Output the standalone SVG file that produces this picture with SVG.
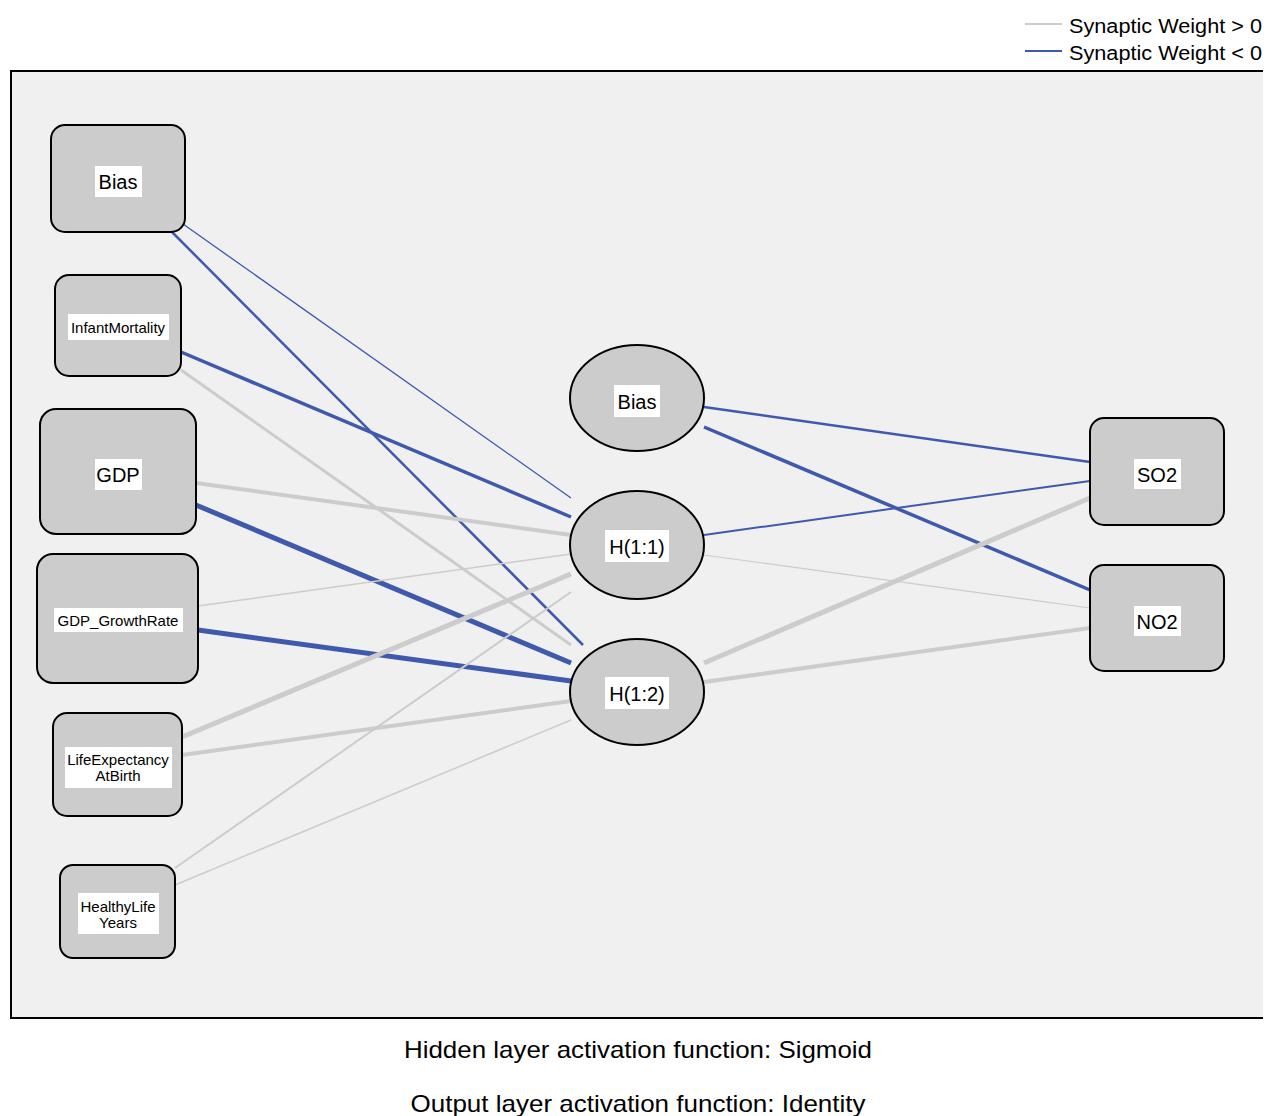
<svg xmlns="http://www.w3.org/2000/svg" width="1270" height="1116" viewBox="0 0 1270 1116">
<style>
text{font-family:"Liberation Sans",Arial,sans-serif;fill:#000}
.node{fill:#cccccc;stroke:#000;stroke-width:2}
.lbl{fill:#fff}
.pos{stroke:#cccccc;fill:none}
.neg{stroke:#3f59ad;fill:none}
.big{font-size:20px;text-anchor:middle}
.sm{font-size:15px;text-anchor:middle}
.cap{font-size:24px;text-anchor:middle}
.leg{font-size:20px}
</style>
<rect width="1270" height="1116" fill="#fff"/>
<g id="legend">
<line x1="1025" y1="24" x2="1062" y2="24" class="pos" stroke-width="2"/>
<text x="1069" y="33" class="leg" textLength="193" lengthAdjust="spacingAndGlyphs">Synaptic Weight &gt; 0</text>
<line x1="1025" y1="51" x2="1062" y2="51" class="neg" stroke-width="2"/>
<text x="1069" y="60" class="leg" textLength="193" lengthAdjust="spacingAndGlyphs">Synaptic Weight &lt; 0</text>
</g>
<g id="frame">
<rect x="11" y="71" width="1252" height="947" fill="#f0f0f0"/>
<polyline points="1263,71 11,71 11,1018 1263,1018" fill="none" stroke="#000" stroke-width="2"/>
</g>
<g id="connectors">
<line x1="183" y1="224" x2="571" y2="498" class="neg" stroke-width="1.3"/>
<line x1="172" y1="232" x2="583" y2="645" class="neg" stroke-width="2.5"/>
<line x1="181" y1="352" x2="571" y2="517" class="neg" stroke-width="3.5"/>
<line x1="181" y1="370" x2="571" y2="645" class="pos" stroke-width="3"/>
<line x1="196" y1="483" x2="571" y2="535" class="pos" stroke-width="4"/>
<line x1="196" y1="505" x2="571" y2="663" class="neg" stroke-width="5"/>
<line x1="198" y1="606" x2="571" y2="554" class="pos" stroke-width="1.5"/>
<line x1="198" y1="630" x2="571" y2="681" class="neg" stroke-width="5"/>
<line x1="182" y1="737" x2="571" y2="574" class="pos" stroke-width="5"/>
<line x1="182" y1="755" x2="571" y2="701" class="pos" stroke-width="4"/>
<line x1="175" y1="868" x2="571" y2="592" class="pos" stroke-width="2"/>
<line x1="175" y1="885" x2="571" y2="720" class="pos" stroke-width="1.5"/>
<line x1="704" y1="407" x2="1090" y2="462" class="neg" stroke-width="2.5"/>
<line x1="704" y1="427" x2="1090" y2="590" class="neg" stroke-width="3.5"/>
<line x1="704" y1="535" x2="1090" y2="481" class="neg" stroke-width="2"/>
<line x1="704" y1="555" x2="1090" y2="608" class="pos" stroke-width="1.2"/>
<line x1="704" y1="663" x2="1090" y2="498" class="pos" stroke-width="5"/>
<line x1="704" y1="682" x2="1090" y2="628" class="pos" stroke-width="4"/>
</g>
<g id="in_bias">
<rect x="51" y="125" width="134" height="107" rx="14" class="node"/>
<rect x="95" y="166" width="47" height="31" class="lbl"/>
<text x="118" y="189" class="big">Bias</text>
</g>
<g id="in_infant">
<rect x="55" y="275" width="126" height="101" rx="14" class="node"/>
<rect x="68" y="314" width="101" height="26" class="lbl"/>
<text x="118" y="333" class="sm">InfantMortality</text>
</g>
<g id="in_gdp">
<rect x="40" y="409" width="156" height="125" rx="16" class="node"/>
<rect x="95" y="459" width="47" height="31" class="lbl"/>
<text x="118" y="482" class="big">GDP</text>
</g>
<g id="in_gdpgr">
<rect x="37" y="554" width="161" height="129" rx="16" class="node"/>
<rect x="54" y="608" width="129" height="24" class="lbl"/>
<text x="118" y="626" class="sm">GDP_GrowthRate</text>
</g>
<g id="in_life">
<rect x="53" y="713" width="129" height="103" rx="14" class="node"/>
<rect x="65" y="747" width="107" height="41" class="lbl"/>
<text x="118" y="765" class="sm">LifeExpectancy</text>
<text x="118" y="781" class="sm">AtBirth</text>
</g>
<g id="in_healthy">
<rect x="60" y="865" width="115" height="93" rx="13" class="node"/>
<rect x="78" y="893" width="81" height="41" class="lbl"/>
<text x="118" y="912" class="sm">HealthyLife</text>
<text x="118" y="928" class="sm">Years</text>
</g>
<g id="h_bias">
<ellipse cx="637" cy="398" rx="67" ry="53" class="node"/>
<rect x="614" y="385" width="46" height="32" class="lbl"/>
<text x="637" y="409" class="big">Bias</text>
</g>
<g id="h11">
<ellipse cx="637" cy="545" rx="67" ry="54" class="node"/>
<rect x="605" y="530" width="64" height="32" class="lbl"/>
<text x="637" y="554" class="big">H(1:1)</text>
</g>
<g id="h12">
<ellipse cx="637" cy="692" rx="67" ry="53" class="node"/>
<rect x="605" y="677" width="64" height="32" class="lbl"/>
<text x="637" y="701" class="big">H(1:2)</text>
</g>
<g id="out_so2">
<rect x="1090" y="418" width="134" height="107" rx="14" class="node"/>
<rect x="1134" y="459" width="47" height="30" class="lbl"/>
<text x="1157" y="482" class="big">SO2</text>
</g>
<g id="out_no2">
<rect x="1090" y="565" width="134" height="106" rx="14" class="node"/>
<rect x="1134" y="606" width="47" height="30" class="lbl"/>
<text x="1157" y="629" class="big">NO2</text>
</g>
<g id="captions">
<text x="638" y="1058" class="cap" textLength="468" lengthAdjust="spacingAndGlyphs">Hidden layer activation function: Sigmoid</text>
<text x="638" y="1112" class="cap" textLength="455" lengthAdjust="spacingAndGlyphs">Output layer activation function: Identity</text>
</g>
</svg>
